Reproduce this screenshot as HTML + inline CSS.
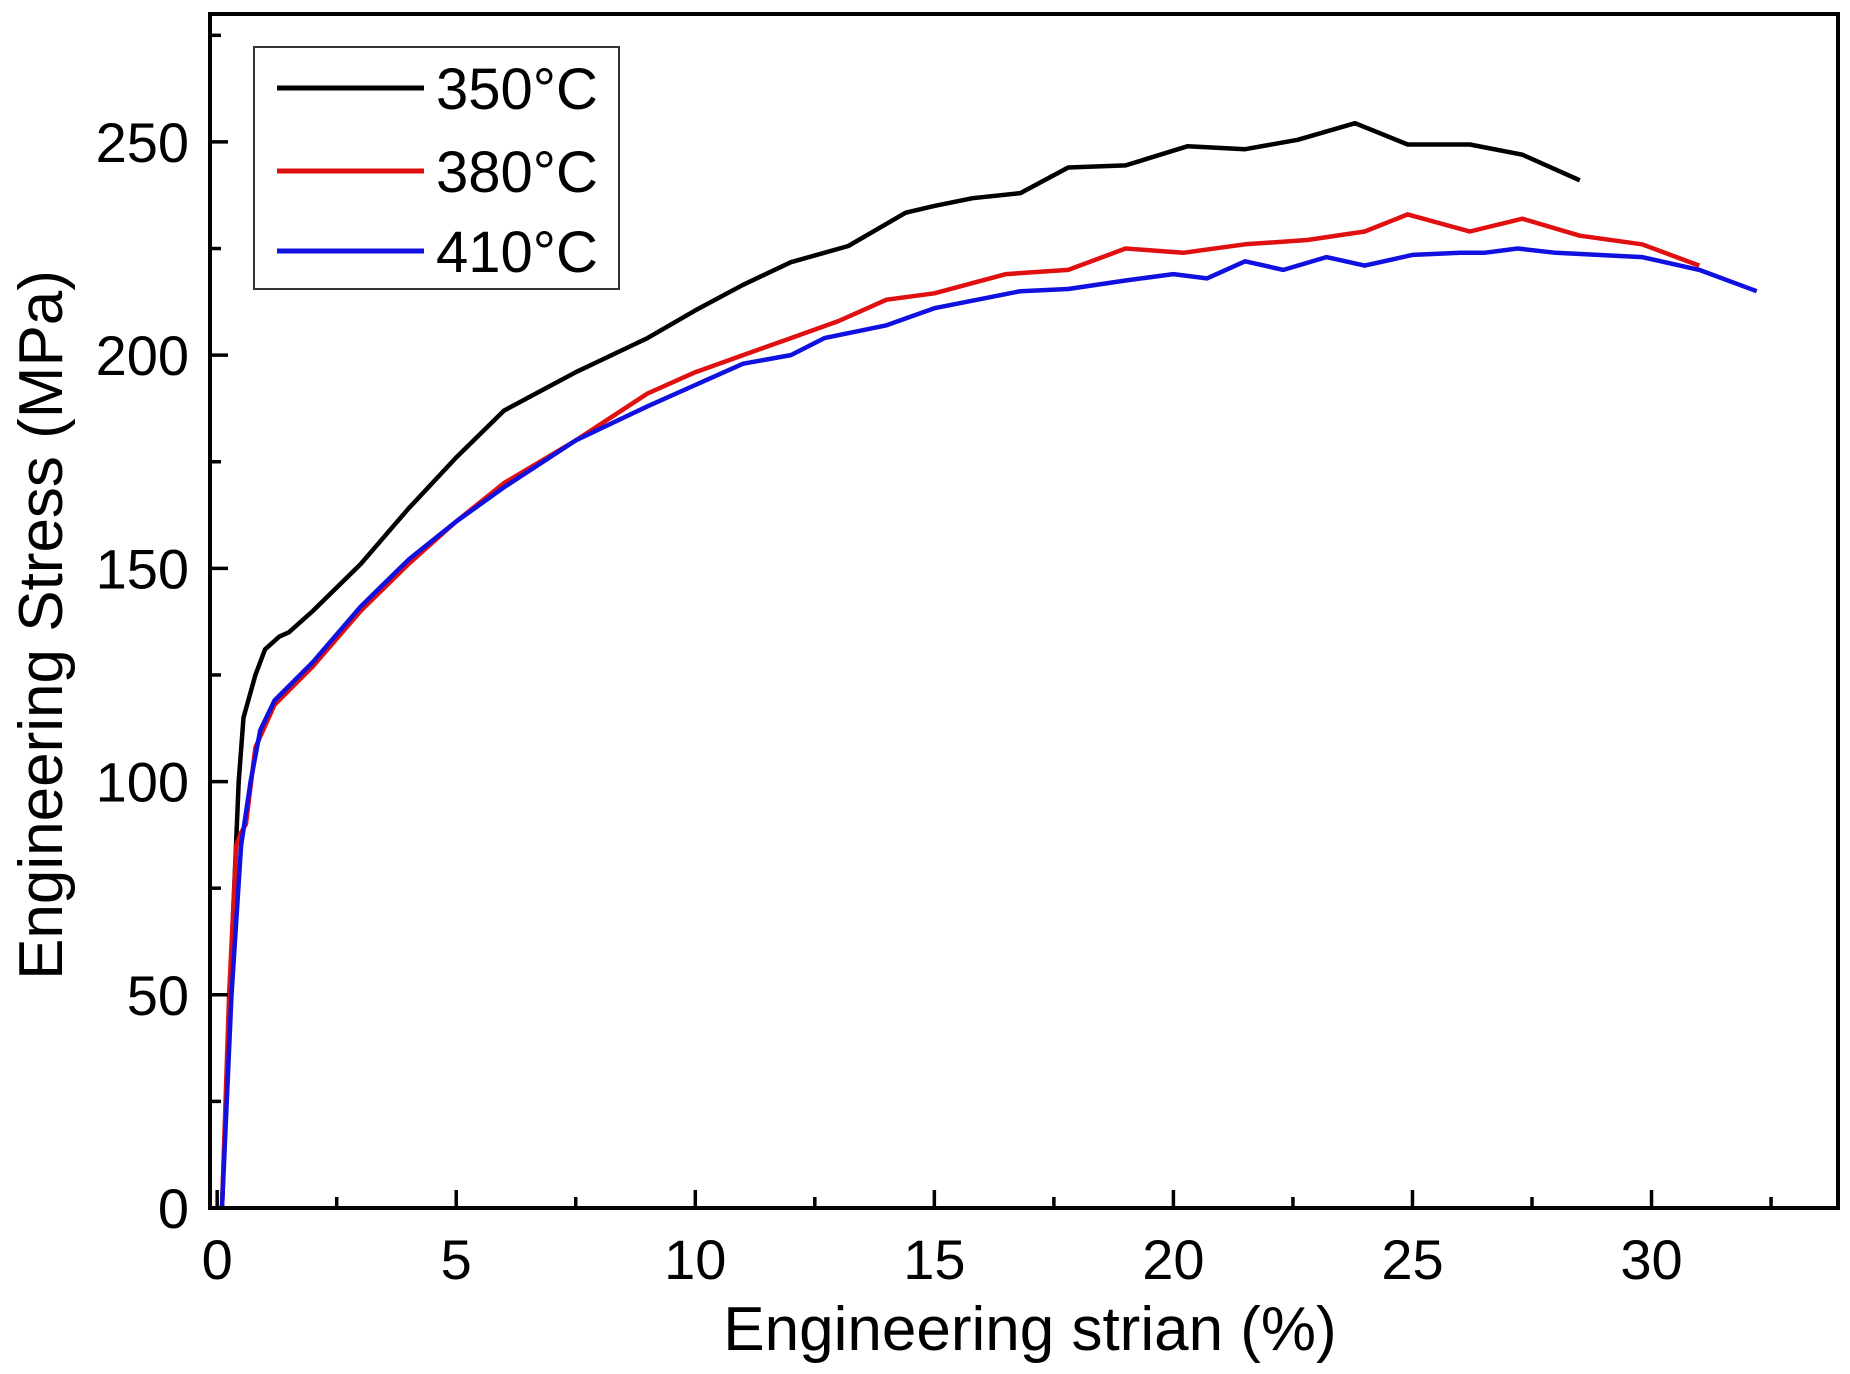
<!DOCTYPE html>
<html><head><meta charset="utf-8"><style>
body{margin:0;background:#fff}
svg{display:block;font-family:"Liberation Sans",sans-serif}
</style></head><body>
<svg id="chart" width="1850" height="1374" viewBox="0 0 1850 1374" xmlns="http://www.w3.org/2000/svg"></svg>
<script>
const xTicks=[0,5,10,15,20,25,30];
const xMinorTicks=[2.5,7.5,12.5,17.5,22.5,27.5,32.5];
const yTicks=[0,50,100,150,200,250];
const yMinorTicks=[25,75,125,175,225,275];
const seriesNames=["350°C","380°C","410°C"];
const seriesColors=["#000000","#e01010","#1010e0"];
const s350x=[0.1,0.3,0.45,0.55,0.8,1.0,1.3,1.5,2,3,4,5,6,7.5,9,10,11,12,13.2,14.4,15,15.8,16.8,17.8,19,20.3,21.5,22.6,23.8,24.9,26.2,27.3,28.5];
const s350y=[0,60,100,115,125,131,134,135,140,151,164,176,187,196,204,210.5,216.5,221.8,225.6,233.4,235,236.8,238,244,244.5,249,248.3,250.5,254.4,249.4,249.4,247,241];
const s380x=[0.1,0.25,0.4,0.5,0.6,0.8,1.2,2,3,4,5,6,7.5,9,10,11,12,13,14,15,16.5,17.8,19,20.2,21.5,22.8,24,24.9,26.2,27.3,28.5,29.8,31];
const s380y=[0,50,85,88,90,108,118,127,140,151,161,170,180,191,196,200,204,208,213,214.5,219,220,225,224,226,227,229,233,229,232,228,226,221];
const s410x=[0.1,0.3,0.5,0.7,0.9,1.2,2,3,4,5,6,7.5,9,10,11,12,12.7,14,15,16.8,17.8,19,20,20.7,21.5,22.3,23.2,24,25,26,26.5,27.2,28,29.8,31,32.2];
const s410y=[0,50,85,100,112,119,128,141,152,161,169,180,188,193,198,200,204,207,211,215,215.5,217.5,219,218,222,220,223,221,223.5,224,224,225,224,223,220,215];
const X0=210,X1=1838,Y0=1208,Y1=14,xMin=-0.15,xMax=33.9,yMin=0,yMax=280;
const sx=v=>X0+(v-xMin)/(xMax-xMin)*(X1-X0);
const sy=v=>Y0-(v-yMin)/(yMax-yMin)*(Y0-Y1);
const svg=document.getElementById('chart');
const NS="http://www.w3.org/2000/svg";
function mk(tag,attrs){const e=document.createElementNS(NS,tag);for(const k in attrs)e.setAttribute(k,attrs[k]);svg.appendChild(e);return e;}
const xs=[s350x,s380x,s410x], ys=[s350y,s380y,s410y];
const snames=['series-350c','series-380c','series-410c'];
for(let i=0;i<3;i++){
  const pts=xs[i].map((x,j)=>sx(x).toFixed(1)+','+sy(ys[i][j]).toFixed(1)).join(' ');
  const p=mk('polyline',{points:pts,fill:'none',stroke:seriesColors[i],'stroke-width':4.5,'stroke-linejoin':'round'});
  
  
}
const fr=mk('rect',{x:X0,y:Y1,width:X1-X0,height:Y0-Y1,fill:'none',stroke:'#000','stroke-width':4});


xTicks.forEach(t=>{
  const l=mk('line',{x1:sx(t),x2:sx(t),y1:Y0,y2:Y0-18,stroke:'#000','stroke-width':3.5});
  
  
  const tx=mk('text',{x:sx(t),y:1279,'font-size':56,'text-anchor':'middle'});
  tx.textContent=t;
  
  
});
xMinorTicks.forEach(t=>{
  const l=mk('line',{x1:sx(t),x2:sx(t),y1:Y0,y2:Y0-11,stroke:'#000','stroke-width':3.5});
  
  
});
yTicks.forEach(t=>{
  const l=mk('line',{x1:X0,x2:X0+18,y1:sy(t),y2:sy(t),stroke:'#000','stroke-width':3.5});
  
  
  const tx=mk('text',{x:189,y:sy(t)+20,'font-size':56,'text-anchor':'end'});
  tx.textContent=t;
  
  
});
yMinorTicks.forEach(t=>{
  const l=mk('line',{x1:X0,x2:X0+11,y1:sy(t),y2:sy(t),stroke:'#000','stroke-width':3.5});
  
  
});
const xt=mk('text',{x:1030,y:1350,'font-size':62,'text-anchor':'middle'});
xt.textContent='Engineering strian (%)';


const yt=mk('text',{x:0,y:0,'font-size':62,'text-anchor':'middle',transform:'translate(62,625) rotate(-90)'});
yt.textContent='Engineering Stress (MPa)';


const lb=mk('rect',{x:254,y:47,width:365,height:242,fill:'#fff',stroke:'#333','stroke-width':2});


const ly=[88,171,251];
for(let i=0;i<3;i++){
  const l=mk('line',{x1:277,x2:424,y1:ly[i],y2:ly[i],stroke:seriesColors[i],'stroke-width':5});
  
  
  const t=mk('text',{x:436,y:ly[i]+21,'font-size':58});
  t.textContent=seriesNames[i];
  
  
}
</script>
</body></html>
